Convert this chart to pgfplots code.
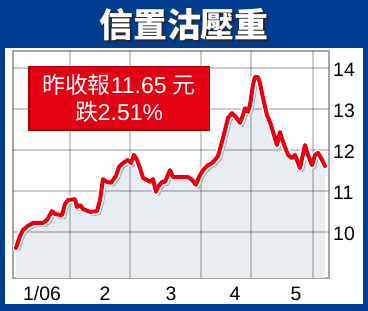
\documentclass[border=0pt]{standalone}
\usepackage{pgfplots}
\pgfplotsset{compat=1.18}
\usepackage{pgfplotstable}
\usepackage{fontspec}
\setmainfont{Liberation Sans}
\newfontfamily\cjk{Noto Sans CJK TC}
\definecolor{frameblue}{RGB}{0,61,145}
\definecolor{linered}{RGB}{230,0,18}
\definecolor{areafill}{RGB}{232,237,241}
\definecolor{boxred}{RGB}{228,0,18}
\definecolor{boxedge}{RGB}{170,0,10}

\pgfplotstableread{
x y
16 9.61
20 9.90
23 10.05
28 10.15
33 10.22
43 10.22
47 10.29
52 10.51
55 10.44
62 10.41
65 10.68
68 10.78
75 10.80
77 10.61
80 10.66
83 10.56
90 10.49
97 10.51
100 10.78
103 11.29
107 11.22
111 11.20
116 11.37
119 11.59
123 11.68
128 11.76
131 11.68
134 11.88
137 11.76
140 11.56
143 11.32
147 11.27
150 11.22
153 11.29
156 10.98
158 11.10
162 11.22
165 11.22
170 11.51
173 11.34
180 11.34
188 11.34
192 11.27
196 11.15
199 11.34
203 11.51
208 11.63
212 11.68
215 11.76
218 11.85
223 12.29
228 12.78
232 12.90
236 12.80
240 12.66
243 12.85
245 13.02
248 12.93
250 13.10
253 13.59
255 13.78
258 13.78
260 13.63
263 13.27
267 12.85
270 12.68
275 12.29
277 12.12
280 12.44
283 12.20
288 11.88
292 11.80
295 11.88
300 11.56
305 12.12
308 11.88
312 11.63
315 11.88
318 11.93
322 11.76
325 11.61
}\pricedata

\begin{document}
\begin{tikzpicture}
\path[use as bounding box] (0,0) rectangle (368bp,311bp);
\fill[frameblue] (0,0) rectangle (368bp,311bp);
\fill[white] (5bp,7bp) rectangle (363bp,263bp);
\begin{axis}[
  at={(13bp,33bp)}, anchor=south west,
  scale only axis, width=316bp, height=227bp,
  xmin=13, xmax=329, ymin=8.878, ymax=14.415,
  axis line style={draw=black!35, line width=1.6bp},
  xtick={42,105,171,235,296},
  xticklabels={1/06,2,3,4,5},
  ytick={10,11,12,13,14},
  major tick length=0pt,
  yticklabel pos=right,
  /pgf/number format/assume math mode=true,
  tick label style={font=\fontsize{19.5}{20}\selectfont, inner sep=0pt},
  yticklabel style={anchor=west, xshift=4bp, yshift=-1.5bp},
  xticklabel style={anchor=base, yshift=-22bp},
]
\addplot[fill=areafill, draw=none] table[x=x,y=y]{\pricedata} \closedcycle;
\pgfplotsinvokeforeach{70,130,201,251,313}{
  \draw[black, draw opacity=0.2, line width=1.6bp] (axis cs:#1,8.878) -- (axis cs:#1,14.415);
}
\pgfplotsinvokeforeach{10,11,12,13,14}{
  \draw[black, draw opacity=0.2, line width=1.6bp] (axis cs:13,#1) -- (axis cs:329,#1);
}
\addplot[draw=gray!60, line width=3.2bp, xshift=2.5bp, yshift=-2.5bp, line join=round] table[x=x,y=y]{\pricedata};
\addplot[draw=white, line width=7bp, line join=round, line cap=round] table[x=x,y=y]{\pricedata};
\addplot[draw=linered, line width=4bp, line join=round, line cap=round] table[x=x,y=y]{\pricedata};
\end{axis}
% title
\node[font=\cjk\bfseries\fontsize{34}{36}\selectfont, text=black!85] at (186bp,284bp) {信置沽壓重};
\node[font=\cjk\bfseries\fontsize{34}{36}\selectfont, text=white] at (184bp,286bp) {信置沽壓重};
% red box
\fill[boxred] (28bp,180bp) rectangle (210bp,245bp);
\draw[boxedge, line width=1.5bp] (28.75bp,180.75bp) rectangle (209.25bp,244.25bp);
\node[anchor=base, text=white, inner sep=0pt, font=\fontsize{23}{25}\selectfont] at (119bp,217bp) {{\cjk 昨收報}11.65 {\cjk 元}};
\node[anchor=base, text=white, inner sep=0pt, font=\fontsize{23}{25}\selectfont] at (119bp,190bp) {{\cjk 跌}2.51\%};
\end{tikzpicture}
\end{document}
